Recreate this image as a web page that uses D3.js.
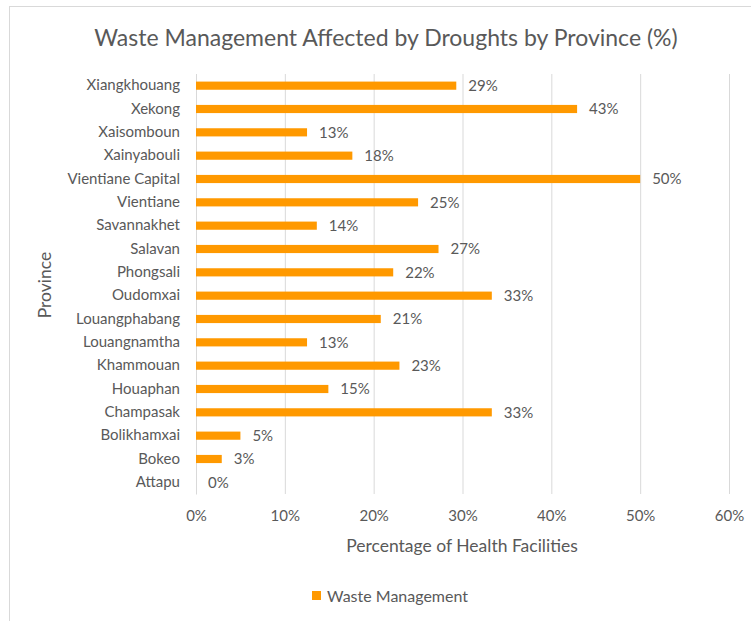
<!DOCTYPE html>
<html><head><meta charset="utf-8">
<script src="https://cdn.jsdelivr.net/npm/d3@7"></script>
<style>body{margin:0;background:#fff}svg{display:block}text{font-family:Lato,"Open Sans",sans-serif;fill:#595959}</style>
</head><body><svg id="c" width="751" height="621"></svg>
<script>
const provinces = ["Xiangkhouang","Xekong","Xaisomboun","Xainyabouli","Vientiane Capital","Vientiane","Savannakhet","Salavan","Phongsali","Oudomxai","Louangphabang","Louangnamtha","Khammouan","Houaphan","Champasak","Bolikhamxai","Bokeo","Attapu"];
const values = [29.3,42.9,12.5,17.6,50,25,13.6,27.3,22.2,33.3,20.8,12.5,22.9,14.9,33.3,5.0,2.9,0];
const labels = ["29%","43%","13%","18%","50%","25%","14%","27%","22%","33%","21%","13%","23%","15%","33%","5%","3%","0%"];
const xTicks = [0,10,20,30,40,50,60];
const seriesName = "Waste Management";
const barColor = "#FF9900";

const svg = d3.select("#c");
svg.append("rect").attr("x",9.5).attr("y",6.5).attr("width",760).attr("height",640).attr("fill","#fff").attr("stroke","#d9d9d9");

const m = {l:196, r:729, t:74, b:494};
const x = d3.scaleLinear().domain([0,60]).range([m.l,m.r]);
const y = d3.scaleBand().domain(provinces).range([m.t,m.b]).paddingInner(0.65).paddingOuter(0.325);

svg.append("text").attr("x",386).attr("y",46).attr("text-anchor","middle").attr("font-size",23).text("Waste Management Affected by Droughts by Province (%)");

const gx = svg.append("g").attr("transform",`translate(0,${m.b})`)
  .call(d3.axisBottom(x).tickValues(xTicks).tickSize(-(m.b-m.t)).tickFormat(d=>d+"%").tickPadding(16));
gx.select(".domain").remove();
gx.selectAll(".tick line").attr("stroke","#d9d9d9");
gx.selectAll(".tick text").attr("font-size",15).attr("fill","#595959").style("font-family","Lato");

const gy = svg.append("g").attr("transform",`translate(${m.l},0)`)
  .call(d3.axisLeft(y).tickSize(0).tickPadding(16));
gy.select(".domain").attr("stroke","#d9d9d9");
gy.selectAll(".tick text").attr("font-size",15).attr("fill","#595959").style("font-family","Lato");

svg.append("g").selectAll("rect").data(provinces).join("rect")
  .attr("x",x(0)).attr("y",d=>y(d)).attr("height",y.bandwidth())
  .attr("width",(d,i)=>x(values[i])-x(0)).attr("fill",barColor);

svg.append("g").selectAll("text").data(provinces).join("text")
  .attr("x",(d,i)=>x(values[i])+12).attr("y",d=>y(d)+y.bandwidth()/2).attr("dy","0.35em")
  .attr("font-size",15).text((d,i)=>labels[i]);

svg.append("text").attr("x",462).attr("y",552).attr("text-anchor","middle").attr("font-size",17.5).text("Percentage of Health Facilities");
svg.append("text").attr("transform","translate(51,285) rotate(-90)").attr("text-anchor","middle").attr("font-size",17.5).text("Province");

svg.append("rect").attr("x",312).attr("y",591).attr("width",9).attr("height",9).attr("fill",barColor);
svg.append("text").attr("x",327).attr("y",596).attr("dy","0.35em").attr("font-size",16).text(seriesName);
</script></body></html>
